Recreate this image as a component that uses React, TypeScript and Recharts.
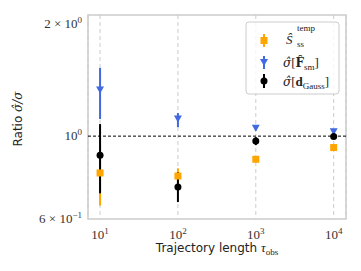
import React from "react";
import {
  ScatterChart,
  Scatter,
  XAxis,
  YAxis,
  ErrorBar,
  CartesianGrid,
  ReferenceLine,
  ReferenceArea,
} from "recharts";

const taus = [10, 100, 1000, 10000];

const sTemp = [0.797, 0.782, 0.867, 0.932];
const sTempLow = [0.652, 0.748, 0.862, 0.927];
const sTempHigh = [0.942, 0.82, 0.872, 0.937];

const fSm = [1.329, 1.111, 1.049, 1.027];
const fSmLow = [1.111, 1.057, 1.036, 1.017];
const fSmHigh = [1.523, 1.153, 1.062, 1.037];

const dGauss = [0.889, 0.731, 0.97, 0.997];
const dGaussLow = [0.703, 0.666, 0.946, 0.986];
const dGaussHigh = [1.077, 0.8, 0.994, 1.009];

const xTicks = [10, 100, 1000, 10000];
const xExps = ["1", "2", "3", "4"];
const yTicks = [0.6, 1, 2];
const yTickLabels = [
  { m: "6 × ", e: "−1" },
  { m: "", e: "0" },
  { m: "2 × ", e: "0" },
];

const ORANGE = "#ffa500";
const BLUE = "#4169e1";
const SERIF = "'Liberation Serif', 'DejaVu Serif', serif";
const DV = "'DejaVu Serif', serif";
const SANS = "'DejaVu Sans', sans-serif";

const build = (v: number[], lo: number[], hi: number[]) =>
  taus.map((t, i) => ({ x: t, y: v[i], err: [v[i] - lo[i], hi[i] - v[i]] }));

const sData = build(sTemp, sTempLow, sTempHigh);
const fData = build(fSm, fSmLow, fSmHigh);
const dData = build(dGauss, dGaussLow, dGaussHigh);

const Square = (p: any) => (
  <rect x={p.cx - 3.5} y={p.cy - 3.5} width={7} height={7} fill={ORANGE} />
);
const Tri = (p: any) => (
  <polygon
    points={`${p.cx - 4},${p.cy - 3.5} ${p.cx + 4},${p.cy - 3.5} ${p.cx},${p.cy + 3.5}`}
    fill={BLUE}
  />
);
const Dot = (p: any) => <circle cx={p.cx} cy={p.cy} r={3.5} fill="#000" />;
const Nothing = () => <g />;

const XTick = (p: any) => {
  const i = xTicks.indexOf(p.payload.value);
  return (
    <text x={p.x} y={p.y + 12} textAnchor="middle" fontFamily={SERIF} fontSize={13} fill="#333">
      10<tspan dy={-5} fontSize={9}>{xExps[i]}</tspan>
    </text>
  );
};

const YTick = (p: any) => {
  const i = yTicks.indexOf(p.payload.value);
  const l = yTickLabels[i];
  return (
    <text x={p.x} y={p.y + 4} textAnchor="end" fontFamily={SERIF} fontSize={13} fill="#333">
      {l.m}10<tspan dy={-5} fontSize={9}>{l.e}</tspan>
    </text>
  );
};

const Legend = () => (
  <svg
    width={96}
    height={75}
    style={{ position: "absolute", left: 237, top: 13 }}
  >
    <rect x={1} y={1} width={93} height={72} rx={3} fill="#fff" fillOpacity={0.8} stroke="#ccc" />
    <line x1={19} x2={19} y1={13} y2={26} stroke={ORANGE} strokeWidth={2} />
    <rect x={15.5} y={16} width={7} height={7} fill={ORANGE} />
    <line x1={19} x2={19} y1={35} y2={48} stroke={BLUE} strokeWidth={2} />
    <polygon points="15,38 23,38 19,45" fill={BLUE} />
    <line x1={19} x2={19} y1={53} y2={67} stroke="#000" strokeWidth={2} />
    <circle cx={19} cy={60} r={3.5} fill="#000" />
    <text fontFamily={SERIF} fontSize={13} fill="#222">
      <tspan x={41} y={23} fontStyle="italic">Ŝ</tspan>
      <tspan x={52} y={10} fontSize={9}>temp</tspan>
      <tspan x={52} y={26} fontSize={9}>ss</tspan>
    </text>
    <text x={38} y={46} fontFamily={SERIF} fontSize={13} fill="#222">
      <tspan fontFamily={DV} fontStyle="italic" fontSize={12}>σ̂</tspan>[<tspan fontFamily={DV} fontWeight="bold" fontSize={12}>F̂</tspan>
      <tspan dy={3} fontSize={9}>sm</tspan>
      <tspan dy={-3}>]</tspan>
    </text>
    <text x={38} y={65} fontFamily={SERIF} fontSize={13} fill="#222">
      <tspan fontFamily={DV} fontStyle="italic" fontSize={12}>σ̂</tspan>[<tspan fontWeight="bold">d</tspan>
      <tspan dy={3} fontSize={9}>Gauss</tspan>
      <tspan dy={-3}>]</tspan>
    </text>
  </svg>
);

export default function App() {
  return (
    <div style={{ position: "relative", width: 353, height: 263 }}>
      <ScatterChart
        width={353}
        height={263}
        margin={{ top: 7, right: 15, left: 0, bottom: 0 }}
      >
        <CartesianGrid horizontal={false} stroke="#ccc" strokeDasharray="4 3" />
        <XAxis
          type="number"
          dataKey="x"
          scale="log"
          domain={[7, 14400]}
          allowDataOverflow
          ticks={xTicks}
          tick={<XTick />}
          tickLine={false}
          axisLine={false}
          height={52}
          label={{
            content: () => (
              <text x={209} y={244} textAnchor="middle" fontFamily={SANS} fontSize={12} fill="#222">
                Trajectory length{" "}
                <tspan fontFamily={SERIF} fontStyle="italic" fontSize={13}>τ</tspan>
                <tspan dy={3} fontFamily={SERIF} fontSize={9}>obs</tspan>
              </text>
            ),
          }}
        />
        <YAxis
          type="number"
          dataKey="y"
          scale="log"
          domain={[0.6, 2.11]}
          allowDataOverflow
          ticks={yTicks}
          tick={<YTick />}
          tickLine={false}
          tickSize={0}
          tickMargin={6}
          axisLine={false}
          width={80}
          label={{
            content: () => (
              <text
                x={14}
                y={111}
                transform="rotate(-90 14 111)"
                textAnchor="middle"
                fontFamily={SANS}
                fontSize={12}
                fill="#222"
              >
                Ratio{" "}
                <tspan fontFamily={DV} fontStyle="italic" fontSize={12}>σ̂/σ</tspan>
              </text>
            ),
          }}
        />
        <ReferenceArea
          x1={7}
          x2={14400}
          y1={0.6}
          y2={2.11}
          fill="none"
          stroke="#ccc"
          strokeWidth={1.5}
          ifOverflow="visible"
        />
        <ReferenceLine y={1} stroke="#000" strokeDasharray="3 2" strokeWidth={1} />
        <Scatter data={sData} shape={<Nothing />} isAnimationActive={false}>
          <ErrorBar dataKey="err" direction="y" width={0} stroke={ORANGE} strokeWidth={2} />
        </Scatter>
        <Scatter data={fData} shape={<Nothing />} isAnimationActive={false}>
          <ErrorBar dataKey="err" direction="y" width={0} stroke={BLUE} strokeWidth={2} />
        </Scatter>
        <Scatter data={dData} shape={<Nothing />} isAnimationActive={false}>
          <ErrorBar dataKey="err" direction="y" width={0} stroke="#000" strokeWidth={2} />
        </Scatter>
        <Scatter data={sData} shape={<Square />} isAnimationActive={false} />
        <Scatter data={fData} shape={<Tri />} isAnimationActive={false} />
        <Scatter data={dData} shape={<Dot />} isAnimationActive={false} />
      </ScatterChart>
      <Legend />
    </div>
  );
}
